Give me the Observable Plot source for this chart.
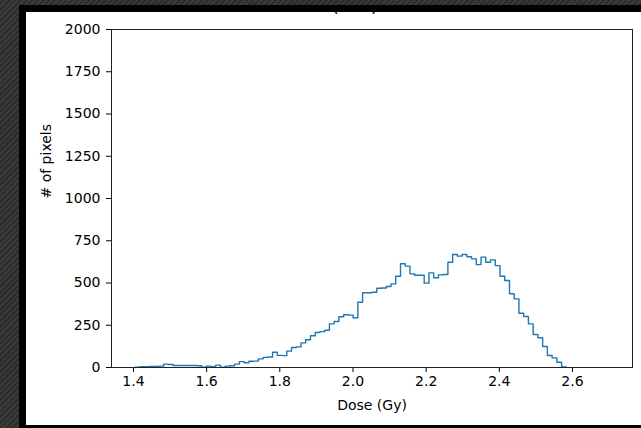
<!DOCTYPE html>
<html>
<head>
<meta charset="utf-8">
<script src="https://cdn.jsdelivr.net/npm/d3@7"></script>
<script src="https://cdn.jsdelivr.net/npm/@observablehq/plot@0.6"></script>
<style>
  html, body { margin: 0; padding: 0; }
  body {
    width: 641px; height: 428px; overflow: hidden; position: relative;
    background: repeating-linear-gradient(135deg, #3a3a3a 0 2px, #2c2c2c 2px 4px);
  }
  #black { position: absolute; left: 19px; top: 5px; width: 622px; height: 423px; background: #000; }
  #white { position: absolute; left: 26px; top: 12px; width: 615px; height: 413px; background: #fff; overflow: hidden; }
  #title { position: absolute; left: 306px; top: -16px; font: 17px "DejaVu Sans"; color: #000; white-space: pre; }
  #chart { position: absolute; left: 0; top: 0; }
</style>
</head>
<body>
<div id="black"></div>
<div id="white"><div id="title">(  b  )</div></div>
<div id="chart"></div>
<script>
// Histogram of dose values (step outline)
const binStart = 1.4047;
const binWidth = 0.01295;
const counts = [
  2, 5, 5, 6, 6, 8, 20, 18, 12, 12,
  12, 12, 12, 10, 2, 8, 5, 14, 2, 8,
  10, 20, 35, 28, 37, 38, 51, 60, 62, 90,
  72, 70, 97, 118, 122, 146, 164, 188, 207, 212,
  220, 258, 272, 300, 312, 310, 294, 386, 442, 442,
  445, 469, 470, 479, 495, 540, 614, 600, 554, 546,
  546, 499, 560, 531, 548, 550, 623, 669, 659, 669,
  655, 643, 609, 653, 623, 637, 603, 540, 515, 436,
  406, 321, 302, 258, 195, 176, 124, 71, 57, 31,
  3, 0, 0, 0, 0, 0, 0, 0, 0, 0
];
const xTicks = [1.4, 1.6, 1.8, 2.0, 2.2, 2.4, 2.6];
const yTicks = [0, 250, 500, 750, 1000, 1250, 1500, 1750, 2000];

// step outline through the last non-empty bin, then down to the baseline
let last = counts.length - 1;
while (last > 0 && counts[last] === 0) last--;
const pts = [{x: binStart, y: 0}];
for (let i = 0; i <= last; i++) pts.push({x: binStart + i * binWidth, y: counts[i]});
const endX = binStart + (last + 1) * binWidth;
pts.push({x: endX, y: counts[last]});
pts.push({x: endX, y: 0});

const chart = Plot.plot({
  width: 641,
  height: 428,
  marginLeft: 111,
  marginRight: 9,
  marginTop: 29,
  marginBottom: 61,
  style: {fontFamily: "DejaVu Sans", fontSize: "14px", background: "transparent", color: "#000", overflow: "visible"},
  x: {domain: [1.34, 2.764], ticks: xTicks, tickFormat: d3.format(".1f"), tickSize: 5, tickPadding: 4, label: null},
  y: {domain: [0, 2000], ticks: yTicks, tickFormat: d => String(d), tickSize: 5, tickPadding: 6, label: null},
  marks: [
    Plot.lineY(pts, {x: "x", y: "y", curve: "step-after", stroke: "#1f77b4", strokeWidth: 1.4}),
    Plot.frame({stroke: "#222", strokeWidth: 1}),
    Plot.text(["Dose (Gy)"], {frameAnchor: "bottom", dy: 42, text: d => d, fontSize: 14}),
    Plot.text(["# of pixels"], {frameAnchor: "left", dx: -65, rotate: -90, text: d => d, fontSize: 14})
  ]
});
document.getElementById("chart").appendChild(chart);
</script>
</body>
</html>
